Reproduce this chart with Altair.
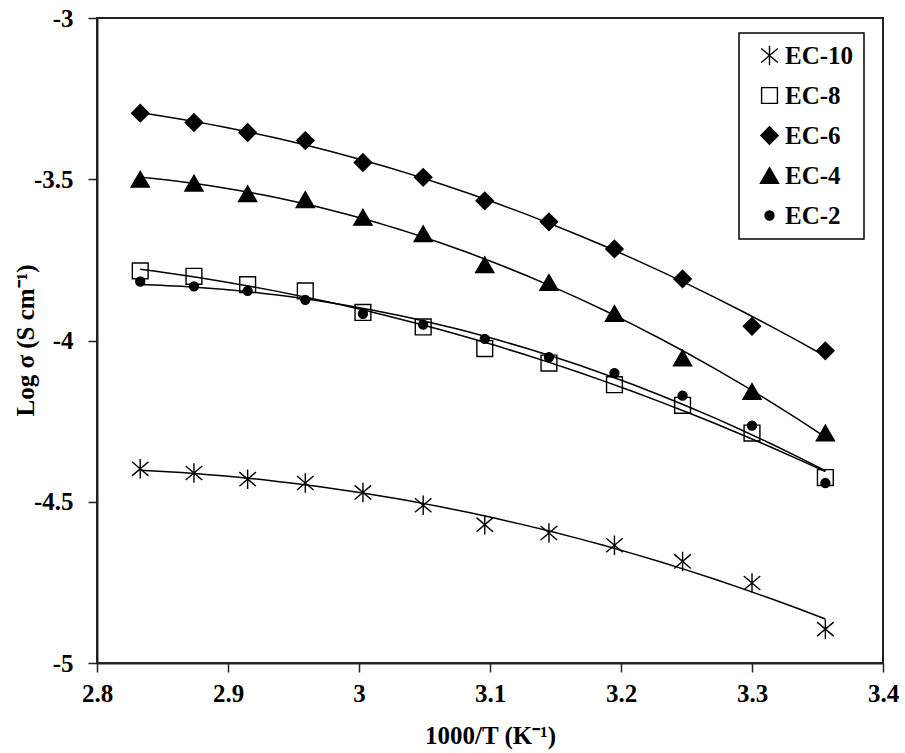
import altair as alt
import pandas as pd

# 1000/T (K^-1) at the measurement temperatures
inv_temp = [2.833, 2.874, 2.915, 2.959, 3.003, 3.049, 3.096, 3.145, 3.195, 3.247, 3.300, 3.356]

series_names = ["EC-10", "EC-8", "EC-6", "EC-4", "EC-2"]

# log conductivity (S cm^-1) for each composition
log_sigma_ec10 = [-4.398, -4.411, -4.430, -4.442, -4.471, -4.511, -4.571, -4.597, -4.635, -4.685, -4.752, -4.895]
log_sigma_ec8 = [-3.784, -3.801, -3.827, -3.846, -3.913, -3.958, -4.025, -4.070, -4.137, -4.201, -4.287, -4.425]
log_sigma_ec6 = [-3.295, -3.324, -3.355, -3.380, -3.448, -3.494, -3.567, -3.632, -3.716, -3.809, -3.956, -4.032]
log_sigma_ec4 = [-3.500, -3.512, -3.545, -3.563, -3.618, -3.669, -3.765, -3.820, -3.916, -4.054, -4.158, -4.287]
log_sigma_ec2 = [-3.817, -3.832, -3.846, -3.874, -3.917, -3.951, -3.995, -4.052, -4.101, -4.171, -4.264, -4.442]

x_ticks = [2.8, 2.9, 3.0, 3.1, 3.2, 3.3, 3.4]
y_ticks = [-5.0, -4.5, -4.0, -3.5, -3.0]

series_values = [log_sigma_ec10, log_sigma_ec8, log_sigma_ec6, log_sigma_ec4, log_sigma_ec2]
rows = []
for name, vals in zip(series_names, series_values):
    for x, y in zip(inv_temp, vals):
        rows.append({"series": name, "x": x, "y": y})
df = pd.DataFrame(rows)

# marker styling per series
star_path = "M0,-1L0,1M-0.85,-0.72L0.85,0.72M-0.85,0.72L0.85,-0.72"
shape_range = [star_path, "square", "diamond", "triangle-up", "circle"]
fill_range = ["transparent", "transparent", "black", "black", "black"]
stroke_range = ["black", "black", "black", "black", "black"]
size_range = [380, 250, 300, 330, 80]

FONT = "Liberation Serif"
FONT_SIZE = 25

# one shared legend for shape, fill, stroke and size
legend_def = alt.Legend(title=None)

x_enc = alt.X(
    "x:Q",
    scale=alt.Scale(domain=[2.8, 3.4], nice=False, zero=False),
    axis=alt.Axis(
        values=x_ticks,
        labelExpr="toString(datum.value)",
        labelFlush=False,
        title="1000/T (K⁻¹)",
        labelPadding=9,
        titleX=393,
        titleY=80,
        titleAlign="center",
        titleBaseline="alphabetic",
    ),
)
y_enc = alt.Y(
    "y:Q",
    scale=alt.Scale(domain=[-5, -3], nice=False, zero=False),
    axis=alt.Axis(
        values=y_ticks,
        labelExpr="toString(datum.value)",
        labelFlush=False,
        title="Log σ (S cm⁻¹)",
        labelPadding=15,
        titleAngle=270,
        titleX=-72,
        titleY=322,
        titleAlign="center",
        titleBaseline="middle",
    ),
)

base = alt.Chart(df)

# second-order polynomial trend line for each series
fit_lines = base.transform_regression(
    "x", "y", groupby=["series"], method="poly", order=2
).mark_line(color="black", strokeWidth=1.5).encode(
    x=x_enc,
    y=y_enc,
    detail="series:N",
)

points = base.mark_point(strokeWidth=1.4, opacity=1).encode(
    x=x_enc,
    y=y_enc,
    shape=alt.Shape(
        "series:N",
        scale=alt.Scale(domain=series_names, range=shape_range),
        legend=legend_def,
    ),
    fill=alt.Fill(
        "series:N",
        scale=alt.Scale(domain=series_names, range=fill_range),
        legend=legend_def,
    ),
    stroke=alt.Stroke(
        "series:N",
        scale=alt.Scale(domain=series_names, range=stroke_range),
        legend=legend_def,
    ),
    size=alt.Size(
        "series:N",
        scale=alt.Scale(type="ordinal", domain=series_names, range=size_range),
        legend=legend_def,
    ),
)

chart = (
    alt.layer(fit_lines, points)
    .properties(
        width=786,
        height=645,
        autosize=alt.AutoSizeParams(type="none"),
        padding={"left": 97, "top": 18, "right": 22, "bottom": 90},
        background="white",
    )
    .configure_view(stroke="#222", strokeWidth=2)
    .configure_axis(
        grid=False,
        domainColor="#222",
        domainWidth=2,
        tickColor="#222",
        tickWidth=1.5,
        tickSize=9,
        labelFont=FONT,
        labelFontWeight="bold",
        labelFontSize=FONT_SIZE,
        labelColor="black",
        titleFont=FONT,
        titleFontWeight="bold",
        titleFontSize=FONT_SIZE,
        titleColor="black",
    )
    .configure_legend(
        orient="none",
        legendX=642,
        legendY=15,
        strokeColor="black",
        strokeWidth=1.5,
        fillColor="white",
        padding=10,
        rowPadding=14,
        labelFont=FONT,
        labelFontWeight="bold",
        labelFontSize=FONT_SIZE,
        labelColor="black",
        labelOffset=3,
        symbolOffset=8,
        symbolStrokeWidth=1.4,
        symbolOpacity=1,
    )
)

chart.save("out.html", embed_options={"renderer": "svg", "actions": False})
